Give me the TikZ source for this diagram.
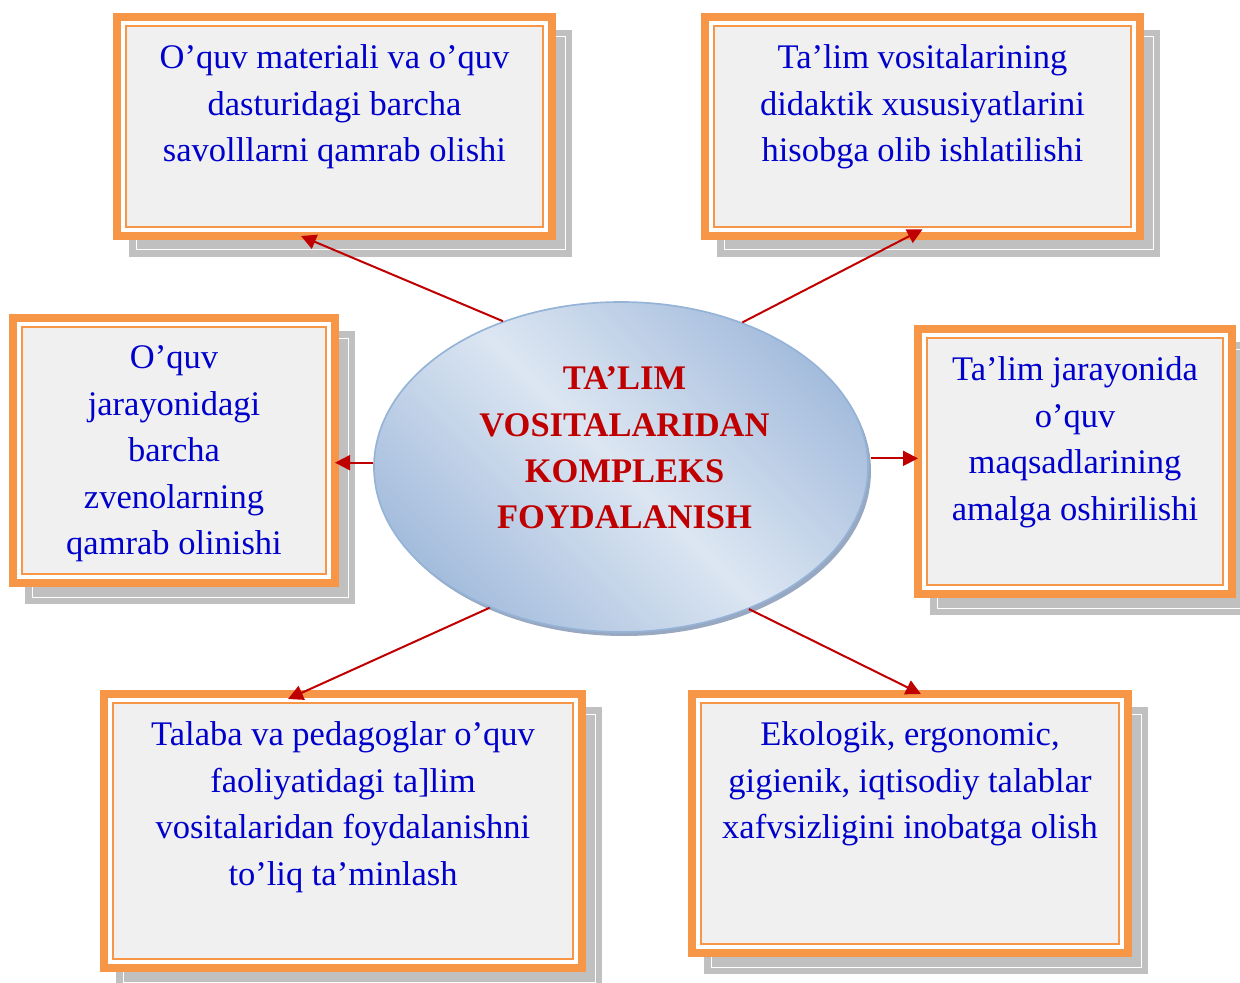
\documentclass[tikz,border=0pt]{standalone}
\usepackage{fontspec}
\setmainfont{Liberation Serif}
\usetikzlibrary{positioning,calc,arrows.meta,backgrounds,shapes.geometric}
\definecolor{boxorange}{HTML}{F79646}
\definecolor{boxfill}{HTML}{F0F0F0}
\definecolor{shadowgray}{HTML}{C0C0C0}
\definecolor{textblue}{HTML}{0000CC}
\definecolor{titlered}{HTML}{C00000}
\definecolor{ellborder}{HTML}{95B3D7}
\definecolor{elllight}{HTML}{DCE6F2}
\definecolor{elldark}{HTML}{A5BDDD}
\definecolor{ellshadow}{HTML}{97A8C0}

\begin{document}
\begin{tikzpicture}[x=0.6pt,y=-0.6pt]
\tikzstyle{frame}=[rectangle,draw=boxorange,line width=4.8pt,fill=white,inner sep=0pt,outer sep=0pt]
\tikzstyle{innerframe}=[draw=boxorange,line width=1.4pt,fill=boxfill]
\tikzstyle{boxtext}=[anchor=north,align=center,inner sep=0pt,text=textblue,font=\fontsize{20.7pt}{27.9pt}\selectfont]
\tikzstyle{titletext}=[align=center,inner sep=0pt,text=titlered,font=\bfseries\fontsize{20.7pt}{27.8pt}\selectfont]
\tikzstyle{link}=[draw=titlered,line width=1.2pt,-{Triangle[length=9pt,width=9pt]}]
\useasboundingbox (0,0) rectangle (1240,983);
    \node[frame,minimum width=261pt,minimum height=131.4pt] (b1) at (334.5,126.5) {};
    \node[frame,minimum width=261pt,minimum height=131.4pt] (b2) at (922.5,126.5) {};
    \node[frame,minimum width=193.2pt,minimum height=159pt] (b3) at (174,450.5) {};
    \node[frame,minimum width=188.4pt,minimum height=159pt] (b4) at (1075,461.5) {};
    \node[frame,minimum width=286.8pt,minimum height=164.4pt] (b5) at (343,831) {};
    \node[frame,minimum width=261.6pt,minimum height=155.4pt] (b6) at (910,823.5) {};
    % shadows and inner lines of the frames
    \foreach \b in {b1,b2,b3,b4,b5,b6}{
      \begin{scope}[on background layer]
        \fill[shadowgray] ([shift={(12,13)}]\b.north west) rectangle ([shift={(20,21)}]\b.south east);
        \draw[white,line width=0.6pt] ([shift={(19,20)}]\b.north west) rectangle ([shift={(13,14)}]\b.south east);
      \end{scope}
      \draw[innerframe] ([shift={(9,9)}]\b.north west) rectangle ([shift={(-9,-9)}]\b.south east);
    }
    \node[boxtext,below=16.5pt of b1.north] (t1) {O’quv materiali va o’quv\\dasturidagi barcha\\savolllarni qamrab olishi};
    \node[boxtext,below=16.5pt of b2.north] (t2) {Ta’lim vositalarining\\didaktik xususiyatlarini\\hisobga olib ishlatilishi};
    \node[boxtext,below=16.5pt of b3.north] (t3) {O’quv\\jarayonidagi\\barcha\\zvenolarning\\qamrab olinishi};
    \node[boxtext,below=16.5pt of b4.north] (t4) {Ta’lim jarayonida\\o’quv\\maqsadlarining\\amalga oshirilishi};
    \node[boxtext,below=16.5pt of b5.north] (t5) {Talaba va pedagoglar o’quv\\faoliyatidagi ta]lim\\vositalaridan foydalanishni\\to’liq ta’minlash};
    \node[boxtext,below=16.5pt of b6.north] (t6) {Ekologik, ergonomic,\\gigienik, iqtisodiy talablar\\xafvsizligini inobatga olish};
    % central ellipse
    \node[ellipse,draw=ellborder,line width=1pt,top color=elldark,bottom color=elldark,middle color=elllight,shading angle=-45,
          minimum width=296.4pt,minimum height=198pt,inner sep=0pt] (ell) at (621,467) {};
    \begin{scope}[on background layer]
      \fill[ellshadow] ([shift={(3,4)}]ell.center) ellipse (247 and 165);
    \end{scope}
    \node[titletext] (title) at (624.5,448) {TA’LIM\\VOSITALARIDAN\\KOMPLEKS\\FOYDALANISH};
    \path (ell.129) edge [link] ($(b1.south west)!0.423!(b1.south east)$);
    \path (ell.50) edge [link] ([yshift=4pt]b2.south);
    \path (ell.179) edge [link] (ell.179 -| b3.east);
    \path ([xshift=1.5pt]ell.2) edge [link] (ell.2 -| b4.west);
    \path (ell.227) edge [link] ($(b5.north west)!0.385!(b5.north east)+(0,5)$);
    \path (ell.312) edge [link] ($(b6.north west)!0.525!(b6.north east)$);
\end{tikzpicture}
\end{document}
